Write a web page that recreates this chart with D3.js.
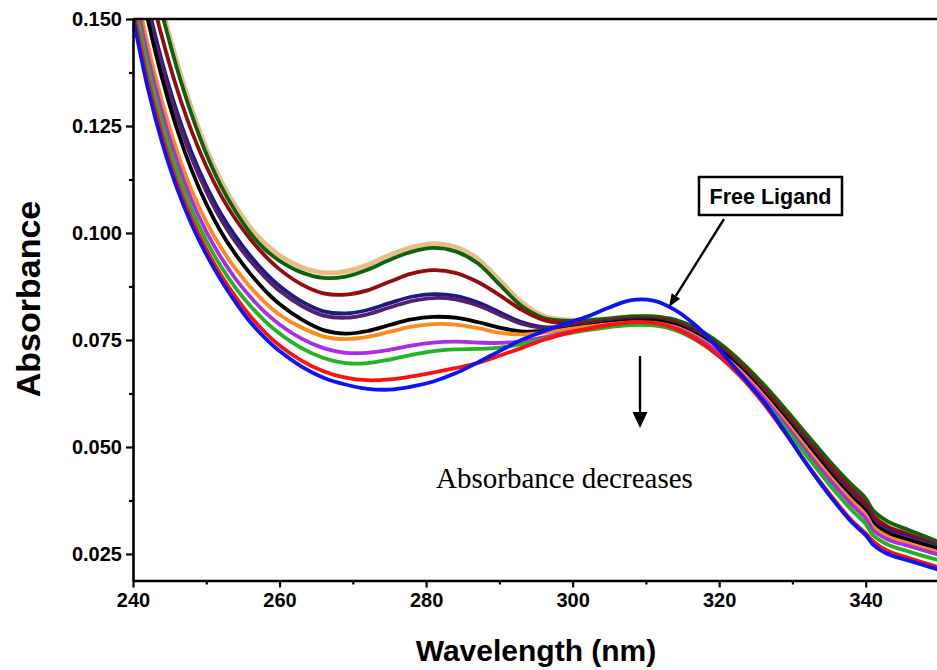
<!DOCTYPE html>
<html>
<head>
<meta charset="utf-8">
<script src="https://cdn.jsdelivr.net/npm/d3@7"></script>
<style>
  body { margin: 0; background: #fff; }
  svg { display: block; }
</style>
</head>
<body>
<div id="chart"></div>
<script>
// wavelengths (nm)
var wavelength = [240, 242, 244, 246, 248, 250, 252, 254, 256, 258, 260, 263, 266, 269, 272, 275, 278, 281, 284, 287,
  290, 293, 296, 299, 302, 305, 308, 311, 314, 317, 320, 323, 326, 329, 332, 335, 338, 340, 341, 343, 346, 350];

// absorbance for each titration step
var tan = [0.1805, 0.1655, 0.1522, 0.1398, 0.1290, 0.1197, 0.1122, 0.1062, 0.1012, 0.0975, 0.0947, 0.0920, 0.0907, 0.0910, 0.0925, 0.0948, 0.0966, 0.0975, 0.0967, 0.0940,
  0.0890, 0.0838, 0.0806, 0.0797, 0.0797, 0.0800, 0.0804, 0.0804, 0.0796, 0.0775, 0.0742, 0.0698, 0.0646, 0.0588, 0.0526, 0.0465, 0.0410, 0.0376, 0.0348, 0.0322, 0.0300, 0.0272];
var darkGreen = [0.1790, 0.1645, 0.1510, 0.1385, 0.1277, 0.1185, 0.1110, 0.1050, 0.1000, 0.0962, 0.0935, 0.0908, 0.0895, 0.0898, 0.0914, 0.0937, 0.0956, 0.0965, 0.0957, 0.0930,
  0.0880, 0.0830, 0.0802, 0.0795, 0.0796, 0.0800, 0.0805, 0.0805, 0.0797, 0.0776, 0.0743, 0.0699, 0.0647, 0.0589, 0.0528, 0.0468, 0.0413, 0.0380, 0.0352, 0.0326, 0.0305, 0.0278];
var darkRed = [0.1760, 0.1595, 0.1455, 0.1337, 0.1238, 0.1156, 0.1088, 0.1032, 0.0986, 0.0947, 0.0915, 0.0880, 0.0859, 0.0856, 0.0866, 0.0886, 0.0905, 0.0913, 0.0907, 0.0886,
  0.0855, 0.0821, 0.0797, 0.0789, 0.0790, 0.0795, 0.0800, 0.0800, 0.0791, 0.0769, 0.0735, 0.0690, 0.0637, 0.0578, 0.0517, 0.0457, 0.0402, 0.0368, 0.0340, 0.0314, 0.0295, 0.0270];
var navy = [0.1690, 0.1535, 0.1398, 0.1283, 0.1188, 0.1110, 0.1045, 0.0992, 0.0947, 0.0908, 0.0876, 0.0840, 0.0817, 0.0812, 0.0820, 0.0836, 0.0851, 0.0857, 0.0853, 0.0838,
  0.0815, 0.0792, 0.0780, 0.0781, 0.0786, 0.0792, 0.0797, 0.0797, 0.0787, 0.0764, 0.0729, 0.0683, 0.0629, 0.0570, 0.0508, 0.0447, 0.0391, 0.0358, 0.0330, 0.0306, 0.0289, 0.0268];
var purple = [0.1680, 0.1522, 0.1385, 0.1270, 0.1175, 0.1097, 0.1032, 0.0979, 0.0935, 0.0897, 0.0865, 0.0830, 0.0807, 0.0802, 0.0810, 0.0826, 0.0841, 0.0848, 0.0845, 0.0831,
  0.0809, 0.0788, 0.0778, 0.0779, 0.0785, 0.0791, 0.0796, 0.0796, 0.0786, 0.0763, 0.0728, 0.0682, 0.0628, 0.0568, 0.0506, 0.0445, 0.0389, 0.0356, 0.0328, 0.0304, 0.0287, 0.0266];
var black = [0.1660, 0.1500, 0.1360, 0.1243, 0.1147, 0.1068, 0.1003, 0.0950, 0.0905, 0.0866, 0.0834, 0.0798, 0.0773, 0.0765, 0.0771, 0.0785, 0.0798, 0.0804, 0.0802, 0.0792,
  0.0779, 0.0770, 0.0771, 0.0776, 0.0783, 0.0790, 0.0795, 0.0795, 0.0785, 0.0762, 0.0727, 0.0681, 0.0626, 0.0566, 0.0503, 0.0441, 0.0384, 0.0351, 0.0322, 0.0299, 0.0282, 0.0262];
var orange = [0.1605, 0.1440, 0.1305, 0.1192, 0.1100, 0.1026, 0.0966, 0.0916, 0.0874, 0.0838, 0.0809, 0.0779, 0.0758, 0.0752, 0.0757, 0.0769, 0.0781, 0.0787, 0.0786, 0.0778,
  0.0767, 0.0763, 0.0767, 0.0774, 0.0781, 0.0787, 0.0791, 0.0790, 0.0780, 0.0757, 0.0722, 0.0676, 0.0621, 0.0560, 0.0496, 0.0433, 0.0376, 0.0342, 0.0314, 0.0291, 0.0274, 0.0254];
var violet = [0.1580, 0.1415, 0.1280, 0.1168, 0.1077, 0.1003, 0.0943, 0.0893, 0.0851, 0.0815, 0.0786, 0.0753, 0.0731, 0.0720, 0.0720, 0.0727, 0.0737, 0.0744, 0.0746, 0.0744,
  0.0743, 0.0747, 0.0756, 0.0767, 0.0776, 0.0784, 0.0789, 0.0788, 0.0778, 0.0754, 0.0718, 0.0671, 0.0615, 0.0553, 0.0488, 0.0425, 0.0367, 0.0333, 0.0306, 0.0284, 0.0268, 0.0248];
var green = [0.1555, 0.1390, 0.1255, 0.1145, 0.1055, 0.0982, 0.0922, 0.0872, 0.0830, 0.0794, 0.0765, 0.0731, 0.0708, 0.0696, 0.0696, 0.0704, 0.0715, 0.0724, 0.0728, 0.0729,
  0.0732, 0.0740, 0.0752, 0.0764, 0.0773, 0.0780, 0.0785, 0.0784, 0.0773, 0.0748, 0.0712, 0.0664, 0.0608, 0.0545, 0.0478, 0.0413, 0.0354, 0.0320, 0.0294, 0.0272, 0.0255, 0.0235];
var red = [0.1525, 0.1360, 0.1228, 0.1120, 0.1033, 0.0962, 0.0902, 0.0851, 0.0806, 0.0768, 0.0737, 0.0702, 0.0677, 0.0662, 0.0656, 0.0658, 0.0665, 0.0674, 0.0684, 0.0696,
  0.0713, 0.0731, 0.0750, 0.0765, 0.0776, 0.0785, 0.0791, 0.0790, 0.0777, 0.0750, 0.0712, 0.0663, 0.0603, 0.0533, 0.0460, 0.0392, 0.0330, 0.0298, 0.0280, 0.0257, 0.0240, 0.0219];
var freeLigand = [0.1505, 0.1340, 0.1210, 0.1105, 0.1020, 0.0950, 0.0890, 0.0838, 0.0792, 0.0755, 0.0724, 0.0688, 0.0662, 0.0646, 0.0636, 0.0634, 0.0641, 0.0653, 0.0672, 0.0697,
  0.0724, 0.0750, 0.0770, 0.0788, 0.0805, 0.0826, 0.0843, 0.0842, 0.0820, 0.0781, 0.0728, 0.0668, 0.0608, 0.0535, 0.0458, 0.0388, 0.0326, 0.0294, 0.0272, 0.0250, 0.0234, 0.0213];

var seriesNames = ["tan", "darkGreen", "darkRed", "navy", "purple", "black", "orange", "violet", "green", "red", "freeLigand"];
var seriesValues = [tan, darkGreen, darkRed, navy, purple, black, orange, violet, green, red, freeLigand];
var seriesColors = ["#e8bd88", "#0b640b", "#960c0c", "#1c1a86", "#55206e", "#000000", "#ff8a1c", "#aa2ee6", "#22b422", "#ff1010", "#0a14f5"];

var xTicks = [240, 260, 280, 300, 320, 340];
var xMinor = [250, 270, 290, 310, 330, 350];
var yTicks = [0.025, 0.050, 0.075, 0.100, 0.125, 0.150];
var yMinor = [0.0375, 0.0625, 0.0875, 0.1125, 0.1375];

var width = 937, height = 670;

var svg = d3.select("#chart").append("svg")
    .attr("width", width)
    .attr("height", height)
    .style("font-family", "'Liberation Sans', Arial, sans-serif");

var x = d3.scaleLinear()
    .domain([240, 350])
    .range([133, 939]);

var y = d3.scaleLinear()
    .domain([0.0188, 0.150])
    .range([580.5, 19]);

svg.append("clipPath")
    .attr("id", "plot-clip")
  .append("rect")
    .attr("x", x(240))
    .attr("y", y(0.150))
    .attr("width", x(350) - x(240))
    .attr("height", y(0.0188) - y(0.150));

var line = d3.line()
    .x(function(d) { return x(d[0]); })
    .y(function(d) { return y(d[1]); })
    .curve(d3.curveCatmullRom);

// spectra
svg.append("g")
    .attr("clip-path", "url(#plot-clip)")
  .selectAll("path")
    .data(seriesValues)
  .enter().append("path")
    .attr("d", function(vals) { return line(wavelength.map(function(w, i) { return [w, vals[i]]; })); })
    .style("fill", "none")
    .style("stroke", function(d, i) { return seriesColors[i]; })
    .style("stroke-width", function(d, i) { return seriesNames[i] == "tan" ? 5 : 3.8; })
    .style("stroke-linejoin", "round");

// axes
var xAxis = svg.append("g")
    .attr("transform", "translate(0," + y(0.0188) + ")")
    .call(d3.axisBottom(x).tickValues(xTicks).tickSize(7).tickSizeOuter(0).tickFormat(d3.format("d")));

svg.append("g")
    .attr("transform", "translate(0," + y(0.0188) + ")")
    .call(d3.axisBottom(x).tickValues(xMinor).tickSize(4).tickFormat(""))
    .call(function(g) { g.select(".domain").remove(); });

var yAxis = svg.append("g")
    .attr("transform", "translate(" + x(240) + ",0)")
    .call(d3.axisLeft(y).tickValues(yTicks).tickSize(7).tickSizeOuter(0).tickFormat(d3.format(".3f")));

svg.append("g")
    .attr("transform", "translate(" + x(240) + ",0)")
    .call(d3.axisLeft(y).tickValues(yMinor).tickSize(4).tickFormat(""))
    .call(function(g) { g.select(".domain").remove(); });

svg.selectAll(".domain")
    .style("stroke", "#000")
    .style("stroke-width", 2.6);

svg.selectAll(".tick line")
    .style("stroke", "#000")
    .style("stroke-width", 2.2);

svg.selectAll(".tick text")
    .style("font-family", "'Liberation Sans', Arial, sans-serif")
    .style("font-size", "20px")
    .style("font-weight", "bold")
    .style("fill", "#000");

xAxis.selectAll(".tick text").attr("y", 12);
yAxis.selectAll(".tick text").attr("x", -11);

// top frame line
svg.append("line")
    .attr("x1", x(240))
    .attr("x2", width)
    .attr("y1", y(0.150))
    .attr("y2", y(0.150))
    .style("stroke", "#000")
    .style("stroke-width", 2.6);

// axis titles
svg.append("text")
    .attr("x", 536)
    .attr("y", 661)
    .attr("text-anchor", "middle")
    .style("font-size", "30px")
    .style("font-weight", "bold")
    .text("Wavelength (nm)");

svg.append("text")
    .attr("transform", "translate(40,299) rotate(-90)")
    .attr("text-anchor", "middle")
    .style("font-size", "34px")
    .style("font-weight", "bold")
    .text("Absorbance");

// annotations
function arrow(x1, y1, x2, y2, headLen, headHalf) {
  var a = Math.atan2(y2 - y1, x2 - x1),
      bx = x2 - headLen * Math.cos(a),
      by = y2 - headLen * Math.sin(a),
      px = -Math.sin(a) * headHalf,
      py = Math.cos(a) * headHalf;

  svg.append("line")
      .attr("x1", x1)
      .attr("y1", y1)
      .attr("x2", bx)
      .attr("y2", by)
      .style("stroke", "#000")
      .style("stroke-width", 2.4);

  svg.append("path")
      .attr("d", "M" + x2 + "," + y2 + "L" + (bx + px) + "," + (by + py) + "L" + (bx - px) + "," + (by - py) + "Z")
      .style("fill", "#000");
}

svg.append("rect")
    .attr("x", 699)
    .attr("y", 177)
    .attr("width", 143)
    .attr("height", 38)
    .style("fill", "#fff")
    .style("stroke", "#000")
    .style("stroke-width", 2.5);

svg.append("text")
    .attr("x", 770.5)
    .attr("y", 204)
    .attr("text-anchor", "middle")
    .style("font-size", "21.5px")
    .style("font-weight", "bold")
    .text("Free Ligand");

arrow(724, 219, 669, 307, 13, 5);
arrow(640, 356, 640, 428, 16, 7.5);

svg.append("text")
    .attr("x", 436)
    .attr("y", 488)
    .style("font-family", "'Liberation Serif', 'Times New Roman', serif")
    .style("font-size", "29px")
    .text("Absorbance decreases");
</script>
</body>
</html>
